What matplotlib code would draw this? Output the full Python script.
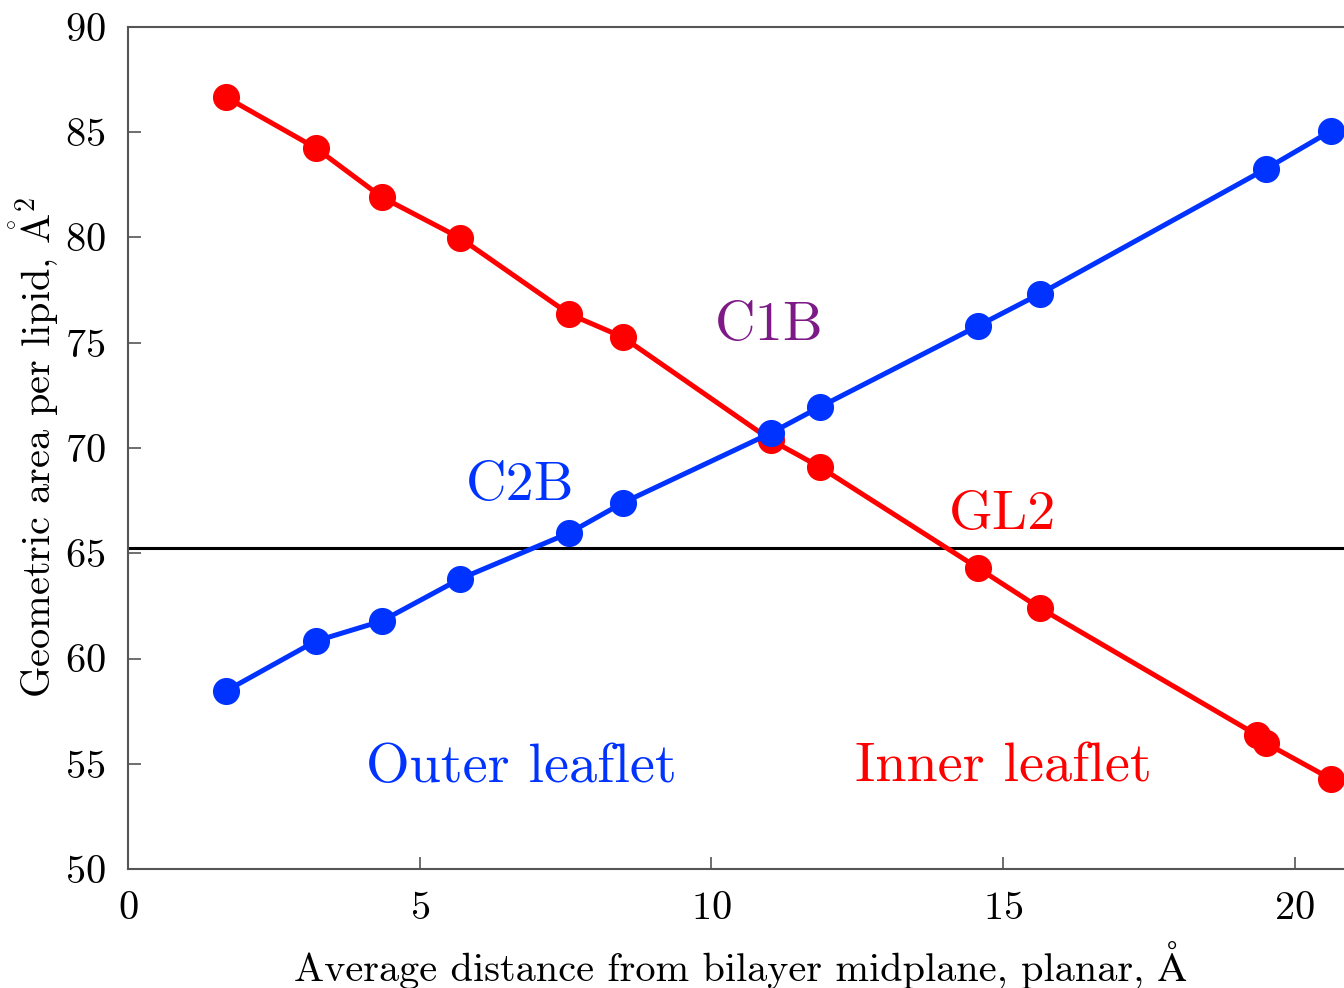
import matplotlib
matplotlib.use('Agg')
import matplotlib.pyplot as plt

# Fonte parecida com LaTeX (Computer Modern)
plt.rcParams['font.family'] = ['cmr10', 'STIXGeneral']
plt.rcParams['mathtext.fontset'] = 'cm'
plt.rcParams['axes.formatter.use_mathtext'] = True

# Dados
dist_inner = [1.68, 3.22, 4.35, 5.69, 7.56, 8.48, 11.02, 11.86, 14.57, 15.63, 19.35, 19.50, 20.62]
area_inner = [86.67, 84.25, 81.92, 79.98, 76.37, 75.27, 70.38, 69.10, 64.30, 62.40, 56.37, 55.99, 54.28]

dist_outer = [1.68, 3.22, 4.35, 5.69, 7.56, 8.48, 11.02, 11.86, 14.57, 15.63, 19.50, 20.62]
area_outer = [58.46, 60.83, 61.78, 63.78, 65.96, 67.39, 70.71, 71.95, 75.80, 77.32, 83.25, 85.06]

area_ref = 65.25  # linha horizontal de referência

blue = '#0033ff'
red = '#ff0000'
purple = '#7d1a87'

fig = plt.figure(figsize=(13.44, 9.88), dpi=100)
ax = fig.add_axes([0.0952, 0.1204, 0.9107, 0.8523])

ax.axhline(area_ref, color='black', lw=2.2, zorder=1)
ax.plot(dist_inner, area_inner, color=red, lw=3.6, marker='o', ms=18.5, zorder=2, clip_on=False)
ax.plot(dist_outer, area_outer, color=blue, lw=3.6, marker='o', ms=18.5, zorder=3, clip_on=False)

ax.text(11.0, 75.8, 'C1B', color=purple, fontsize=40.5, ha='center', va='center')
ax.text(6.72, 68.2, 'C2B', color=blue, fontsize=40.5, ha='center', va='center')
ax.text(15.0, 66.8, 'GL2', color=red, fontsize=40.5, ha='center', va='center')
ax.text(6.75, 54.8, 'Outer leaflet', color=blue, fontsize=40.5, ha='center', va='center')
ax.text(15.0, 54.8, 'Inner leaflet', color=red, fontsize=40.5, ha='center', va='center')

ax.set_xlim(0, 20.98)
ax.set_ylim(50, 90)
ax.set_xticks([0, 5, 10, 15, 20])
ax.set_yticks(range(50, 91, 5))

ax.set_xlabel('Average distance from bilayer midplane, planar, Å', fontsize=29, labelpad=10)
ax.set_ylabel(r'Geometric area per lipid, $\mathring{\mathrm{A}}^2$', fontsize=29, labelpad=3)

ax.tick_params(direction='in', length=9, width=1.2, color='#555555', labelsize=29, pad=16)
for s in ax.spines.values():
    s.set_color('#555555')
    s.set_linewidth(1.5)

fig.savefig('out.png', dpi=100)
